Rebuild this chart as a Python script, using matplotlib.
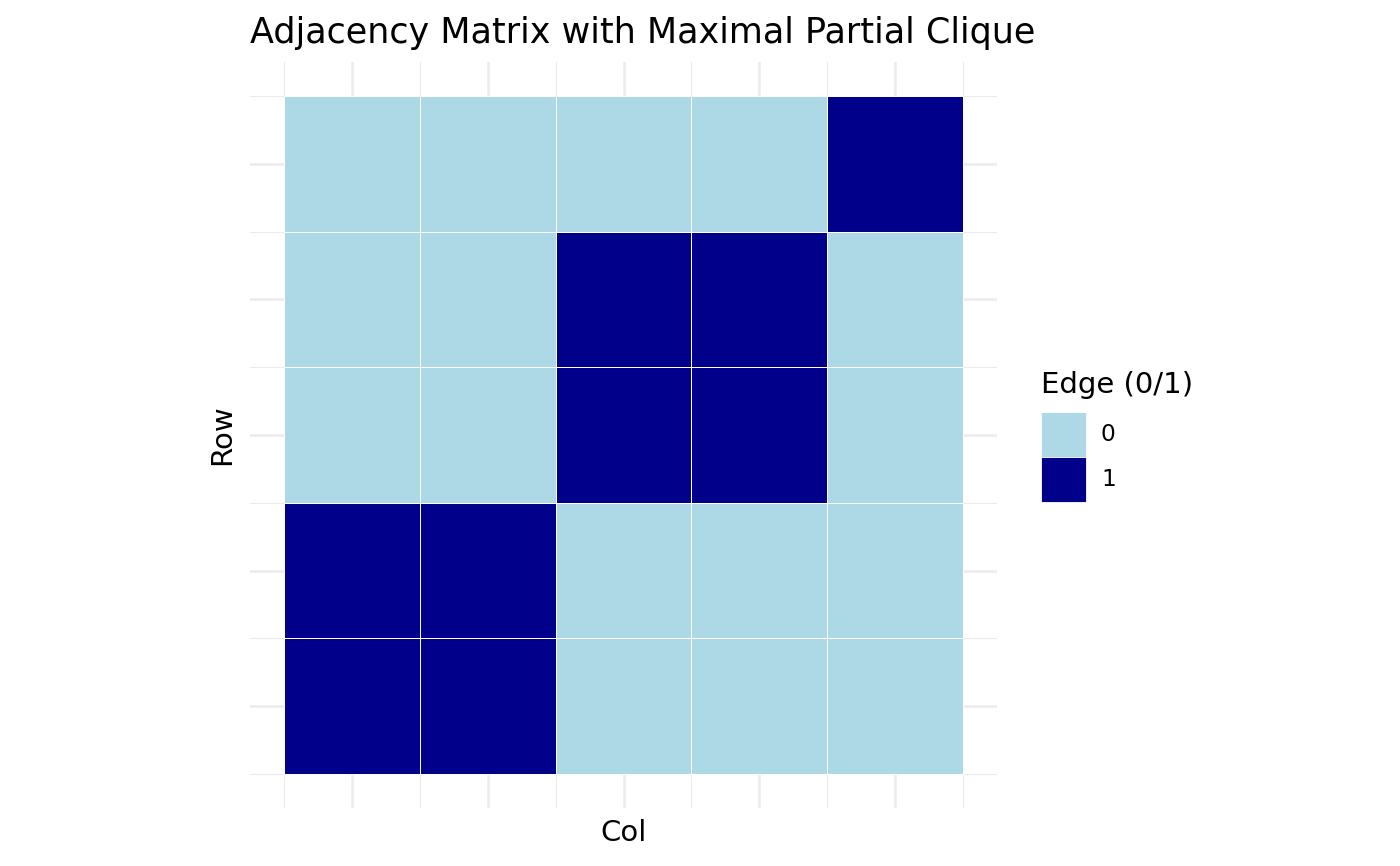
import numpy as np
import matplotlib
matplotlib.use('Agg')
import matplotlib.pyplot as plt
from matplotlib.colors import ListedColormap
from matplotlib.patches import Rectangle

# adjacency values, row 1 at the bottom, col 1 at the left
cols = [1, 2, 3, 4, 5]
rows = [1, 2, 3, 4, 5]
edge = [
    [1, 1, 0, 0, 0],
    [1, 1, 0, 0, 0],
    [0, 0, 1, 1, 0],
    [0, 0, 1, 1, 0],
    [0, 0, 0, 0, 1],
]
levels = ['0', '1']
fill_colors = ['lightblue', 'darkblue']

plt.rcParams['font.family'] = 'DejaVu Sans'

W, H = 1400, 866
fig = plt.figure(figsize=(7, 4.33), dpi=200)
ax = fig.add_axes([250 / W, 1 - 808 / H, 747 / W, 746 / H])

x_edges = np.append(np.array(cols) - 0.5, cols[-1] + 0.5)
y_edges = np.append(np.array(rows) - 0.5, rows[-1] + 0.5)
cmap = ListedColormap(fill_colors)
ax.pcolormesh(x_edges, y_edges, np.array(edge), cmap=cmap, vmin=-0.5, vmax=1.5,
              edgecolors='white', linewidth=0.25, zorder=2)

# continuous scales with 5% expansion like ggplot
span = x_edges[-1] - x_edges[0]
ax.set_xlim(x_edges[0] - 0.05 * span, x_edges[-1] + 0.05 * span)
span = y_edges[-1] - y_edges[0]
ax.set_ylim(y_edges[0] - 0.05 * span, y_edges[-1] + 0.05 * span)

ax.set_xticks(cols)
ax.set_yticks(rows)
ax.set_xticks(x_edges, minor=True)
ax.set_yticks(y_edges, minor=True)
ax.grid(which='major', color='#EBEBEB', linewidth=0.9, zorder=0)
ax.grid(which='minor', color='#EBEBEB', linewidth=0.4, zorder=0)
ax.set_axisbelow(True)
ax.tick_params(which='both', length=0, labelbottom=False, labelleft=False)
for s in ax.spines.values():
    s.set_visible(False)

ax.set_title('Adjacency Matrix with Maximal Partial Clique', loc='left',
             fontsize=12.6, pad=7)
ax.set_xlabel('Col', fontsize=10.5, labelpad=4)
ax.set_ylabel('Row', fontsize=10.5, labelpad=5)

# legend drawn by hand, ggplot style
fig.text(1041 / W, 1 - 393 / H, 'Edge (0/1)', fontsize=10.5, va='baseline', ha='left')
key_top, key_h, key_w = 412, 45, 45
for i, (lab, c) in enumerate(zip(levels, fill_colors)):
    y0 = key_top + i * key_h
    fig.patches.append(Rectangle((1041 / W, 1 - (y0 + key_h) / H), key_w / W, key_h / H,
                                 transform=fig.transFigure, facecolor=c,
                                 edgecolor='white', linewidth=0.3))
    fig.text(1101 / W, 1 - (y0 + key_h / 2) / H, lab, fontsize=8.4,
             va='center', ha='left')

fig.savefig('out.png', dpi=200)
